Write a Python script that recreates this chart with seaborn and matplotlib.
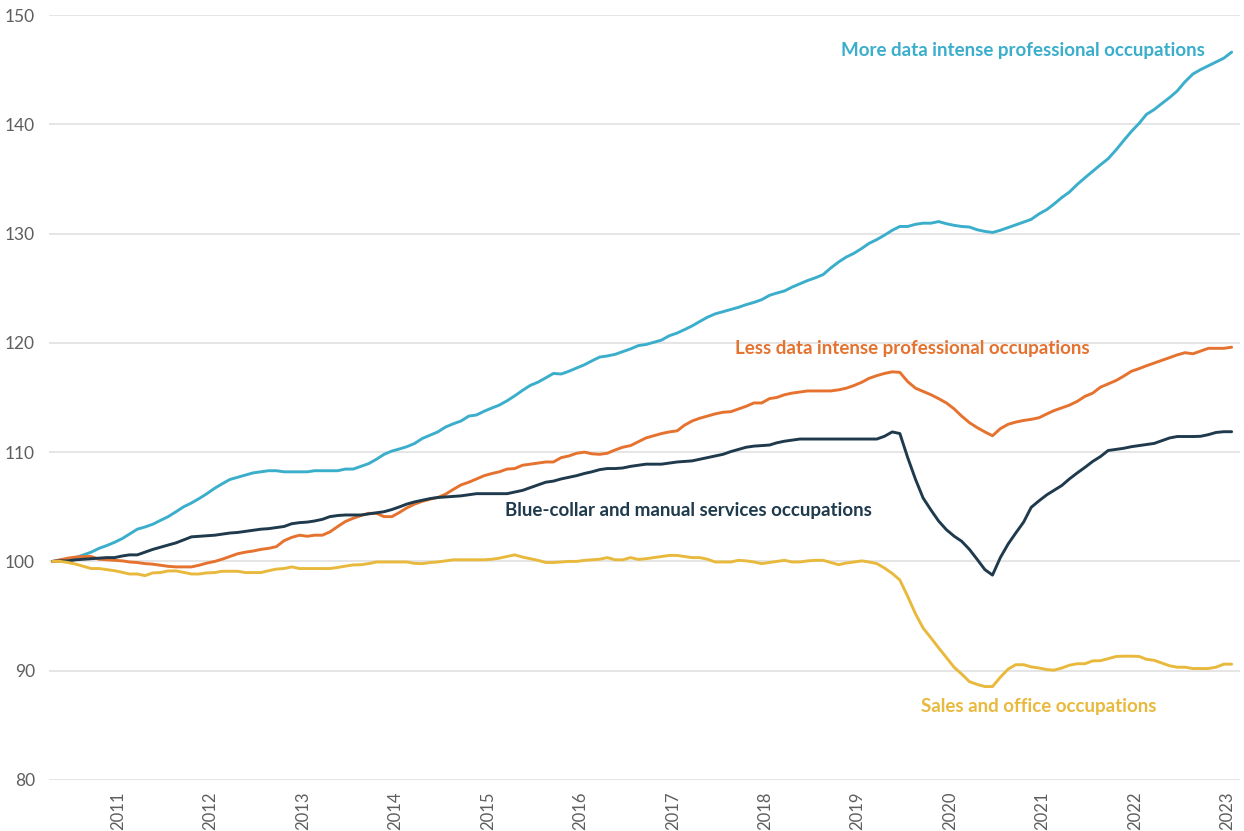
import numpy as np
import pandas as pd
import matplotlib
matplotlib.use("Agg")
import matplotlib.pyplot as plt
import matplotlib.dates as mdates
import seaborn as sns

# ---------------- data (monthly index, May 2010 = 100) ----------------
dates = pd.date_range("2010-05-01", "2023-02-01", freq="MS")

more_data = [
    100.0, 100.1, 100.2, 100.35, 100.6, 100.85, 101.2, 101.45,            # 2010 May-Dec
    101.75, 102.1, 102.5, 102.95, 103.15, 103.4, 103.75, 104.1, 104.55, 105.0, 105.35, 105.75,  # 2011
    106.2, 106.7, 107.1, 107.5, 107.7, 107.9, 108.1, 108.2, 108.3, 108.3, 108.2, 108.2,         # 2012
    108.2, 108.2, 108.3, 108.3, 108.3, 108.3, 108.45, 108.45, 108.7, 108.95, 109.35, 109.8,     # 2013
    110.1, 110.3, 110.5, 110.8, 111.25, 111.55, 111.85, 112.3, 112.6, 112.85, 113.3, 113.4,     # 2014
    113.75, 114.05, 114.3, 114.7, 115.15, 115.65, 116.1, 116.4, 116.8, 117.2, 117.15, 117.4,    # 2015
    117.7, 118.0, 118.35, 118.7, 118.8, 118.95, 119.2, 119.45, 119.75, 119.85, 120.05, 120.25,  # 2016
    120.65, 120.9, 121.2, 121.55, 121.95, 122.35, 122.65, 122.85, 123.05, 123.25, 123.5, 123.7, # 2017
    123.95, 124.35, 124.55, 124.75, 125.1, 125.4, 125.7, 125.95, 126.25, 126.85, 127.4, 127.85, # 2018
    128.2, 128.65, 129.1, 129.45, 129.85, 130.3, 130.65, 130.65, 130.85, 130.95, 130.95, 131.1, # 2019
    130.9, 130.75, 130.65, 130.6, 130.35, 130.2, 130.1, 130.3, 130.55, 130.8, 131.05, 131.3,    # 2020
    131.8, 132.2, 132.7, 133.3, 133.8, 134.5, 135.1, 135.7, 136.3, 136.85, 137.65, 138.5,       # 2021
    139.35, 140.1, 140.9, 141.35, 141.9, 142.45, 143.05, 143.9, 144.6, 145.0, 145.35, 145.7,    # 2022
    146.05, 146.6,                                                                             # 2023
]

less_data = [
    100.0, 100.15, 100.3, 100.4, 100.45, 100.45, 100.2, 100.15,
    100.1, 100.05, 99.95, 99.9, 99.8, 99.75, 99.65, 99.55, 99.5, 99.5, 99.5, 99.65,
    99.85, 100.0, 100.2, 100.45, 100.7, 100.85, 100.95, 101.1, 101.2, 101.35, 101.9, 102.2,
    102.4, 102.3, 102.4, 102.4, 102.7, 103.2, 103.65, 103.95, 104.2, 104.4, 104.4, 104.1,
    104.1, 104.5, 104.9, 105.25, 105.5, 105.7, 105.85, 106.15, 106.6, 107.0, 107.25, 107.55,
    107.85, 108.05, 108.2, 108.45, 108.5, 108.8, 108.9, 109.0, 109.1, 109.1, 109.5, 109.65,
    109.9, 110.0, 109.85, 109.8, 109.9, 110.2, 110.45, 110.6, 110.95, 111.3, 111.5, 111.7,
    111.85, 111.95, 112.45, 112.85, 113.1, 113.3, 113.5, 113.65, 113.7, 113.95, 114.2, 114.5,
    114.5, 114.9, 115.0, 115.25, 115.4, 115.5, 115.6, 115.6, 115.6, 115.6, 115.7, 115.85,
    116.1, 116.4, 116.75, 117.0, 117.2, 117.35, 117.3, 116.45, 115.85, 115.55, 115.25, 114.9,
    114.5, 113.95, 113.3, 112.7, 112.25, 111.85, 111.5, 112.15, 112.55, 112.75, 112.9, 113.0,
    113.15, 113.5, 113.8, 114.05, 114.3, 114.65, 115.1, 115.4, 115.95, 116.25, 116.55, 116.95,
    117.4, 117.65, 117.9, 118.15, 118.4, 118.65, 118.9, 119.1, 119.0, 119.25, 119.5, 119.5,
    119.5, 119.6,
]

blue_collar = [
    100.0, 100.05, 100.05, 100.15, 100.2, 100.25, 100.3, 100.35,
    100.35, 100.5, 100.6, 100.6, 100.85, 101.1, 101.3, 101.5, 101.7, 101.97, 102.25, 102.3,
    102.35, 102.4, 102.5, 102.6, 102.65, 102.75, 102.85, 102.95, 103.0, 103.1, 103.2, 103.45,
    103.55, 103.6, 103.7, 103.85, 104.1, 104.2, 104.25, 104.25, 104.25, 104.35, 104.45, 104.55,
    104.75, 105.0, 105.25, 105.45, 105.6, 105.75, 105.85, 105.9, 105.95, 106.0, 106.1, 106.2,
    106.2, 106.2, 106.2, 106.2, 106.35, 106.5, 106.75, 107.0, 107.25, 107.35, 107.55, 107.7,
    107.85, 108.05, 108.2, 108.4, 108.5, 108.5, 108.55, 108.7, 108.8, 108.9, 108.9, 108.9,
    109.0, 109.1, 109.15, 109.2, 109.35, 109.5, 109.65, 109.8, 110.05, 110.25, 110.45, 110.55,
    110.6, 110.65, 110.85, 111.0, 111.1, 111.2, 111.2, 111.2, 111.2, 111.2, 111.2, 111.2,
    111.2, 111.2, 111.2, 111.2, 111.45, 111.85, 111.7, 109.5, 107.5, 105.8, 104.7, 103.7,
    102.9, 102.3, 101.85, 101.1, 100.2, 99.25, 98.75, 100.35, 101.6, 102.6, 103.6, 104.95,
    105.55, 106.1, 106.5, 106.95, 107.55, 108.1, 108.6, 109.15, 109.6, 110.15, 110.25, 110.35,
    110.5, 110.6, 110.7, 110.8, 111.05, 111.3, 111.43, 111.43, 111.43, 111.45, 111.6, 111.8,
    111.87, 111.87,
]

sales_office = [
    100.0, 100.0, 99.9, 99.75, 99.55, 99.35, 99.35, 99.25,
    99.15, 99.0, 98.85, 98.85, 98.7, 98.95, 98.98, 99.13, 99.13, 99.0, 98.85, 98.85,
    98.95, 98.98, 99.1, 99.1, 99.1, 98.98, 98.98, 98.98, 99.15, 99.3, 99.35, 99.5,
    99.35, 99.35, 99.35, 99.35, 99.35, 99.45, 99.57, 99.68, 99.7, 99.8, 99.95, 99.95,
    99.95, 99.95, 99.95, 99.82, 99.8, 99.9, 99.95, 100.05, 100.15, 100.15, 100.15, 100.15,
    100.15, 100.2, 100.3, 100.45, 100.6, 100.4, 100.25, 100.1, 99.9, 99.9, 99.95, 100.0,
    100.0, 100.1, 100.15, 100.2, 100.35, 100.15, 100.15, 100.35, 100.18, 100.25, 100.35, 100.45,
    100.55, 100.55, 100.45, 100.35, 100.35, 100.2, 99.95, 99.95, 99.95, 100.1, 100.05, 99.95,
    99.8, 99.9, 100.0, 100.1, 99.95, 99.95, 100.05, 100.1, 100.1, 99.9, 99.7, 99.85,
    99.95, 100.05, 99.95, 99.8, 99.4, 98.9, 98.3, 96.8, 95.2, 93.9, 93.0, 92.1,
    91.2, 90.3, 89.7, 89.0, 88.75, 88.55, 88.55, 89.4, 90.15, 90.55, 90.55, 90.35,
    90.25, 90.1, 90.05, 90.25, 90.5, 90.64, 90.64, 90.9, 90.92, 91.1, 91.3, 91.33,
    91.33, 91.3, 91.05, 90.95, 90.7, 90.45, 90.32, 90.32, 90.2, 90.2, 90.2, 90.32,
    90.6, 90.6,
]

series_names = [
    "More data intense professional occupations",
    "Less data intense professional occupations",
    "Blue-collar and manual services occupations",
    "Sales and office occupations",
]
series_values = [more_data, less_data, blue_collar, sales_office]
series_colors = ["#3AAECB", "#E5722E", "#1E3A4C", "#E8B93C"]
year_ticks = list(range(2011, 2024))

# ---------------- build long dataframe ----------------
frames = []
for name, vals in zip(series_names, series_values):
    frames.append(pd.DataFrame({"date": dates, "value": vals, "series": name}))
df = pd.concat(frames, ignore_index=True)

# ---------------- plot ----------------
sns.set_theme(style="white")
plt.rcParams["font.family"] = ["Lato", "DejaVu Sans"]

fig = plt.figure(figsize=(12.44, 8.31), dpi=100)
ax = fig.add_axes([49 / 1244, 1 - 780 / 831, (1240 - 49) / 1244, (780 - 15) / 831])

sns.lineplot(data=df, x="date", y="value", hue="series", hue_order=series_names,
             palette=dict(zip(series_names, series_colors)), linewidth=2.1,
             legend=False, ax=ax)

ax.set_ylim(80, 150)
ax.set_yticks(range(80, 151, 10))
ax.set_xlim(dates[0] - pd.Timedelta(days=14), dates[-1] + pd.Timedelta(days=33))
ax.set_xticks([pd.Timestamp(f"{y}-01-15") for y in year_ticks])
ax.set_xticklabels([str(y) for y in year_ticks], rotation=90, fontsize=12,
                   color="#5e5e5e", va="top")
ax.tick_params(axis="y", labelsize=12.5, labelcolor="#5e5e5e", length=0, pad=10)
ax.tick_params(axis="x", length=0, pad=8)
ax.set_xlabel("")
ax.set_ylabel("")
ax.grid(axis="y", color="#e3e3e3", linewidth=1.3)
ax.grid(axis="x", visible=False)
ax.set_axisbelow(True)
for s in ax.spines.values():
    s.set_visible(False)

# ---------------- line labels ----------------
label_pos = [(0.665, 0.954), (0.576, 0.5634), (0.3829, 0.3529), (0.7322, 0.0967)]
for name, col, (lx, ly) in zip(series_names, series_colors, label_pos):
    ax.text(lx, ly, name, transform=ax.transAxes, color=col, fontsize=13.5,
            fontweight="bold", ha="left", va="center")

fig.savefig("out.png", dpi=100)
